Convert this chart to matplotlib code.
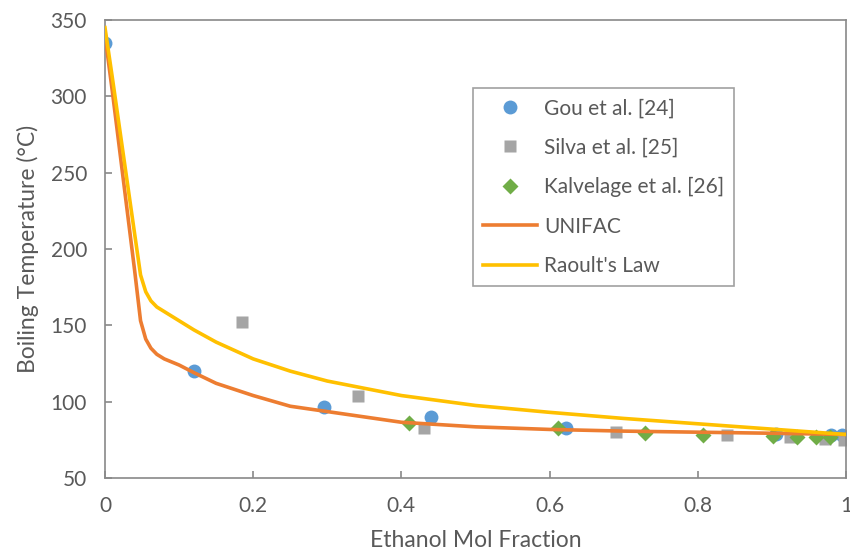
import matplotlib.pyplot as plt
from matplotlib.ticker import FuncFormatter

# experimental data (ethanol mol fraction, boiling temperature in C)
gou_x = [0.0, 0.12, 0.295, 0.44, 0.622, 0.905, 0.98, 0.995]
gou_y = [335, 120, 96.5, 90, 83, 78.5, 78, 78]

silva_x = [0.185, 0.341, 0.43, 0.69, 0.84, 0.925, 0.972, 0.997]
silva_y = [152, 104, 83, 80, 78, 77, 75.5, 75]

kalv_x = [0.41, 0.611, 0.729, 0.807, 0.902, 0.934, 0.96, 0.978]
kalv_y = [86, 82.5, 79.5, 78, 77.5, 77, 77, 77]

# model curves
unifac_x = [0, 0.01, 0.02, 0.03, 0.04, 0.048, 0.055, 0.062, 0.07, 0.08, 0.1, 0.12, 0.15,
            0.2, 0.25, 0.3, 0.4, 0.5, 0.6, 0.7, 0.8, 0.9, 1.0]
unifac_y = [340, 303, 264, 225, 186, 153, 141, 135, 131, 128, 124, 119, 112,
            104, 97, 93.5, 86.5, 83.5, 81.8, 80.7, 80, 79.3, 78.5]

raoult_x = [0, 0.01, 0.02, 0.03, 0.04, 0.048, 0.055, 0.062, 0.07, 0.08, 0.1, 0.12, 0.15,
            0.2, 0.25, 0.3, 0.4, 0.5, 0.6, 0.7, 0.8, 0.9, 1.0]
raoult_y = [345, 312, 278, 244, 210, 183, 172, 166, 162, 159, 153, 147, 139,
            128, 120, 113.5, 104, 97.5, 93, 89, 85.5, 82, 78.5]

plt.rcParams['font.family'] = ['Lato', 'DejaVu Sans']
txt = '#595959'
axc = '#898989'

fig = plt.figure(figsize=(8.5, 5.58), dpi=100)
ax = fig.add_axes([0.1235, 0.1434, 0.8718, 0.8208])

ax.plot(gou_x, gou_y, 'o', color='#5B9BD5', ms=10, mec='none', label='Gou et al. [24]', zorder=2)
ax.plot(silva_x, silva_y, 's', color='#A5A5A5', ms=9, mec='none', label='Silva et al. [25]', zorder=2)
ax.plot(kalv_x, kalv_y, 'D', color='#70AD47', ms=8, mec='none', label='Kalvelage et al. [26]', zorder=2)
ax.plot(unifac_x, unifac_y, '-', color='#ED7D31', lw=2.6, label='UNIFAC', zorder=3)
ax.plot(raoult_x, raoult_y, '-', color='#FFC000', lw=2.6, label="Raoult's Law", zorder=3)

ax.set_xlim(0, 1)
ax.set_ylim(50, 350)
ax.set_xticks([0, 0.2, 0.4, 0.6, 0.8, 1.0])
ax.set_yticks(range(50, 351, 50))
ax.xaxis.set_major_formatter(FuncFormatter(lambda v, p: '%g' % v))

for s in ax.spines.values():
    s.set_color(axc)
    s.set_linewidth(1.2)
ax.tick_params(direction='in', length=5, width=1.2, color=axc, labelcolor=txt, labelsize=15)
ax.tick_params(axis='x', pad=13)
ax.tick_params(axis='y', pad=13)

ax.set_xlabel('Ethanol Mol Fraction', fontsize=16.5, color=txt, labelpad=10)
ax.set_ylabel('Boiling Temperature (°C)', fontsize=16.5, color=txt, labelpad=8)

leg = ax.legend(loc='upper left', bbox_to_anchor=(473 / 850, 1 - 88 / 558),
                bbox_transform=fig.transFigure, frameon=True, fancybox=False,
                fontsize=15, labelcolor=txt, handlelength=2.55, handletextpad=0.35,
                labelspacing=0.93, borderpad=0.5, borderaxespad=0)
leg.get_frame().set_edgecolor(axc)
leg.get_frame().set_linewidth(1.2)

plt.savefig('out.png', dpi=100)
